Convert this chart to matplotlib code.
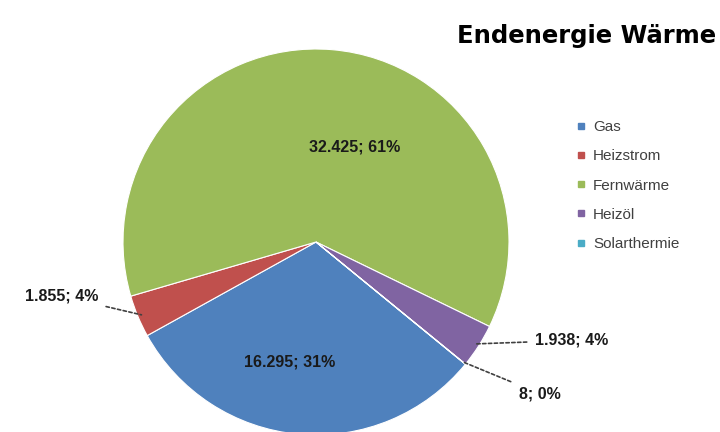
import numpy as np
import matplotlib
matplotlib.use('Agg')
import matplotlib.pyplot as plt
from matplotlib.lines import Line2D

plt.rcParams['font.family'] = ['Liberation Sans', 'DejaVu Sans']

# data
categories = ['Gas', 'Heizstrom', 'Fernwärme', 'Heizöl', 'Solarthermie']
values = [16295, 1855, 32425, 1938, 8]
percents = [31, 4, 61, 4, 0]  # as shown on the chart (sums to 100)
colors = ['#4F81BD', '#C0504D', '#9BBB59', '#8064A2', '#4BACC6']
title = 'Endenergie Wärme'

# label text positions in pie data coords (radius = 1)
label_pos = [(-0.135, -0.62), (-1.13, -0.28), (0.20, 0.49), (1.135, -0.51), (1.05, -0.785)]
leader = [False, True, False, True, True]


def fmt(v, p):
    s = f'{v:,}'.replace(',', '.')
    return f'{s}; {p}%'


fig = plt.figure(figsize=(7.2, 4.32), dpi=100)
# pie centre at about (316, 242) px, radius 193 px
ax = fig.add_axes([(316 - 193) / 720, (432 - 242 - 193) / 432, 386 / 720, 386 / 432])

wedges, _ = ax.pie(values, colors=colors, startangle=-39.3, counterclock=False,
                   radius=1, wedgeprops=dict(edgecolor='white', linewidth=0.8))
ax.set_xlim(-1, 1)
ax.set_ylim(-1, 1)
ax.axis('off')

for w, v, p, pos, ld in zip(wedges, values, percents, label_pos, leader):
    txt = fmt(v, p)
    if ld:
        ang = np.deg2rad((w.theta1 + w.theta2) / 2)
        edge = (0.98 * np.cos(ang), 0.98 * np.sin(ang))
        ha = 'right' if pos[0] < 0 else 'left'
        ax.annotate(txt, xy=edge, xytext=pos, ha=ha, va='center',
                    fontsize=11.5, fontweight='bold', color='#1a1a1a',
                    annotation_clip=False,
                    arrowprops=dict(arrowstyle='-', color='#404040', lw=1.2,
                                    linestyle=(0, (2, 1.5)), shrinkA=4, shrinkB=0))
    else:
        ax.text(pos[0], pos[1], txt, ha='center', va='center',
                fontsize=11.5, fontweight='bold', color='#1a1a1a')

fig.text(716 / 720, 0.917, title, ha='right', va='center', family='DejaVu Sans',
         fontsize=17.5, fontweight='bold', color='black')

handles = [Line2D([], [], marker='s', linestyle='none', markersize=5,
                  markerfacecolor=c, markeredgecolor=c) for c in colors]
fig.legend(handles, categories, loc='upper left', bbox_to_anchor=(0.79, 0.74),
           frameon=False, fontsize=11, labelcolor='#404040', handlelength=0.6,
           handletextpad=0.5, labelspacing=1.0, borderpad=0)

fig.savefig('out.png', dpi=100, facecolor='white')
